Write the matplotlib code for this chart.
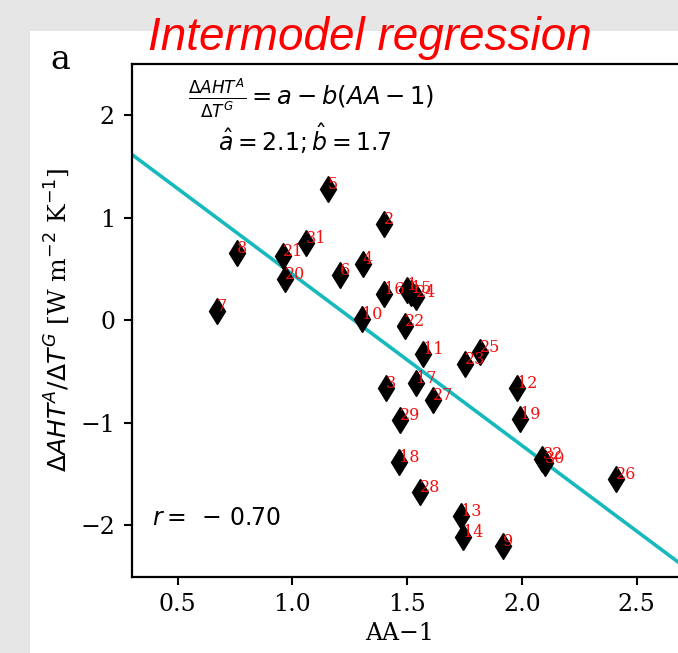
import matplotlib
matplotlib.use("Agg")
import matplotlib.pyplot as plt
from matplotlib.patches import Rectangle
import numpy as np

plt.rcParams['font.family'] = 'serif'
plt.rcParams['font.serif'] = ['DejaVu Serif']
plt.rcParams['mathtext.fontset'] = 'dejavusans'

# model numbers, AA-1 and AHT ratio
model_ids = list(range(1, 33))
aa_minus_1 = [1.501, 1.399, 1.406, 1.306, 1.155, 1.206, 0.670, 0.757,
              1.917, 1.302, 1.569, 1.977, 1.737, 1.745, 1.518, 1.399,
              1.538, 1.464, 1.992, 0.968, 0.961, 1.490, 1.751, 1.537,
              1.817, 2.411, 1.614, 1.556, 1.467, 2.099, 1.059, 2.089]
aht_ratio = [0.294, 0.938, -0.656, 0.548, 1.277, 0.443, 0.092, 0.658,
             -2.196, 0.014, -0.325, -0.656, -1.910, -2.115, 0.268, 0.255,
             -0.611, -1.383, -0.959, 0.401, 0.626, -0.055, -0.422, 0.229,
             -0.308, -1.545, -0.780, -1.675, -0.976, -1.393, 0.750, -1.350]

# regression fit
a_hat = 2.12
b_hat = 1.67
r_value = -0.70

# right edge of the plot runs past the cropped picture
xlim = (0.3, 2.9)
ylim = (-2.5, 2.5)
px_per_unit = 229.5

fig = plt.figure(figsize=(6.78, 6.53), dpi=100)
fig.patch.set_facecolor('#e6e6e6')
# white panel behind the plot
fig.patches.append(Rectangle((30 / 678, 0), 1, 1 - 31 / 653, transform=fig.transFigure,
                             facecolor='white', edgecolor='none', zorder=-10))

ax_w = (xlim[1] - xlim[0]) * px_per_unit
ax = fig.add_axes([131.7 / 678, 76.3 / 653, ax_w / 678, 512.7 / 653])
ax.set_zorder(1)

xx = np.array(xlim)
ax.plot(xx, a_hat - b_hat * xx, color='#17b9bd', lw=2.6, zorder=1)
ax.plot(aa_minus_1, aht_ratio, 'd', color='black', markersize=13, zorder=2)
for i, x, y in zip(model_ids, aa_minus_1, aht_ratio):
    ax.text(x, y, str(i), color='#f01010', fontsize=11.5, zorder=3)

ax.set_xlim(*xlim)
ax.set_ylim(*ylim)
ax.set_xticks([0.5, 1.0, 1.5, 2.0, 2.5])
ax.set_yticks([-2, -1, 0, 1, 2])
ax.tick_params(direction='out', length=6, width=1.5, labelsize=17, pad=6)
for s in ax.spines.values():
    s.set_linewidth(1.6)
ax.spines['right'].set_visible(False)

def ax_x(px):
    return (px - 131.7) / ax_w

def ax_y(py):
    return (576.7 - py) / 512.7

ax.set_xlabel('AA\u22121', fontsize=17)
ax.xaxis.set_label_coords(ax_x(400), -0.088)
ax.set_ylabel(r'$\Delta AHT^A/\Delta T^G$ [W m$^{-2}$ K$^{-1}$]', fontsize=18)
ax.yaxis.set_label_coords(ax_x(72), 0.5)

ax.text(ax_x(311), ax_y(98), r'$\frac{\Delta AHT^A}{\Delta T^G} = a - b(AA - 1)$',
        transform=ax.transAxes, ha='center', va='center', fontsize=17.5)
ax.text(ax_x(305), ax_y(139), r'$\hat{a} = 2.1; \hat{b} = 1.7$',
        transform=ax.transAxes, ha='center', va='center', fontsize=17)
ax.text(ax_x(152), ax_y(525), r'$r=\;-\,%.2f$' % abs(r_value),
        transform=ax.transAxes, ha='left', va='baseline', fontsize=17)

fig.text(60 / 678, 1 - 60 / 653, 'a', fontsize=24, ha='center', va='center')
fig.text(370 / 678, 1 - 50 / 653, 'Intermodel regression', color='red',
         fontsize=33, style='italic', family='Liberation Sans',
         ha='center', va='baseline')

fig.savefig('out.png', dpi=100, facecolor=fig.get_facecolor())
